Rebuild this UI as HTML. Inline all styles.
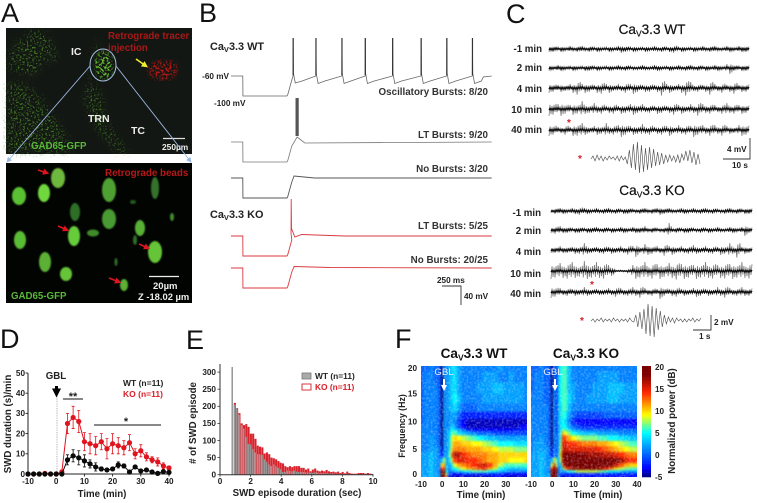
<!DOCTYPE html>
<html lang="en">
<head>
<meta charset="utf-8">
<title>CaV3.3 figure</title>
<style>
html,body{margin:0;padding:0;background:#fff;}
svg{display:block;filter:blur(0.3px);}
text{font-family:"Liberation Sans",sans-serif;font-weight:bold;fill:#222;}
.panel{font-size:27px;font-weight:normal;fill:#111;}
.b{font-size:9.8px;fill:#333;}
.ttl{font-size:10.9px;}
.c{font-size:9.7px;fill:#222;}
.big{font-size:13.6px;font-weight:normal;fill:#111;}
.tick{font-size:8.2px;}
.ax{font-size:9.7px;}
</style>
</head>
<body>
<svg id="fig" xmlns="http://www.w3.org/2000/svg" width="757" height="503" viewBox="0 0 757 503">
<defs>
<filter id="speckG" x="-5%" y="-5%" width="110%" height="110%" color-interpolation-filters="sRGB">
<feTurbulence type="fractalNoise" baseFrequency="0.55" numOctaves="2" seed="4" result="n"/>
<feColorMatrix in="n" type="matrix" values="0 0 0 0 0.27  0 0 0 0 0.5  0 0 0 0 0.14  5 0 0 0 -2.6" result="g"/>
<feGaussianBlur in="SourceAlpha" stdDeviation="4" result="m"/>
<feComposite in="g" in2="m" operator="in"/>
</filter>
<filter id="speckB" x="-5%" y="-5%" width="110%" height="110%" color-interpolation-filters="sRGB">
<feTurbulence type="fractalNoise" baseFrequency="0.42" numOctaves="2" seed="7" result="n"/>
<feColorMatrix in="n" type="matrix" values="0 0 0 0 0.42  0 0 0 0 0.78  0 0 0 0 0.2  6 0 0 0 -2.9" result="g"/>
<feGaussianBlur in="SourceAlpha" stdDeviation="1.5" result="m"/>
<feComposite in="g" in2="m" operator="in"/>
</filter>
<filter id="speckR" x="-5%" y="-5%" width="110%" height="110%" color-interpolation-filters="sRGB">
<feTurbulence type="fractalNoise" baseFrequency="0.5" numOctaves="2" seed="9" result="n"/>
<feColorMatrix in="n" type="matrix" values="0 0 0 0 0.72  0 0 0 0 0.09  0 0 0 0 0.09  6 0 0 0 -2.8" result="g"/>
<feGaussianBlur in="SourceAlpha" stdDeviation="2" result="m"/>
<feComposite in="g" in2="m" operator="in"/>
</filter>
<filter id="cellBlur"><feGaussianBlur stdDeviation="0.9"/></filter>
<filter id="heatBlur" x="-5%" y="-5%" width="110%" height="110%" color-interpolation-filters="sRGB"><feGaussianBlur stdDeviation="1"/></filter>
<filter id="mottle" x="0" y="0" width="100%" height="100%" color-interpolation-filters="sRGB">
<feTurbulence type="fractalNoise" baseFrequency="0.45" numOctaves="2" seed="3"/>
<feColorMatrix type="matrix" values="0 0 0 0 1  0 0 0 0 1  0 0 0 0 1  0.7 0 0 0 -0.3"/>
</filter>
<clipPath id="clipWT"><rect x="421" y="366" width="106" height="111"/></clipPath>
<clipPath id="clipKO"><rect x="531" y="366" width="106" height="111"/></clipPath>
<marker id="redHead" markerWidth="4" markerHeight="4" refX="2.5" refY="2" orient="auto"><path d="M0,0 L4,2 L0,4 Z" fill="#e0141e"/></marker>
<marker id="yelHead" markerWidth="4" markerHeight="4" refX="2.5" refY="2" orient="auto"><path d="M0,0 L4,2 L0,4 Z" fill="#f2ee30"/></marker>
<marker id="bluHead" markerWidth="6" markerHeight="6" refX="5" refY="3" orient="auto"><path d="M0,0 L6,3 L0,6 Z" fill="#9db9e2"/></marker>
<marker id="blkHead" markerWidth="3" markerHeight="3" refX="1.5" refY="1.5" orient="auto"><path d="M0,0 L3,1.5 L0,3 Z" fill="#000"/></marker>
<marker id="whtHead" markerWidth="3" markerHeight="3" refX="1.5" refY="1.5" orient="auto"><path d="M0,0 L3,1.5 L0,3 Z" fill="#fff"/></marker>
</defs>
<rect width="757" height="503" fill="#fff"/>

<text class="panel" x="1" y="22">A</text>
<text class="panel" x="199" y="22">B</text>
<text class="panel" x="506" y="23">C</text>
<text class="panel" x="0" y="348">D</text>
<text class="panel" x="186" y="349">E</text>
<text class="panel" x="395" y="348">F</text>

<!-- Panel A -->
<g>
<rect x="6" y="28" width="186" height="126" fill="#131713"/>
<g filter="url(#speckG)" fill="#000">
<polygon points="8,60 16,44 32,31 48,34 52,50 40,66 34,76 8,68"/>
<polygon points="50,44 56,48 56,64 50,62"/>
<polygon points="7,82 24,84 42,100 60,126 72,152 7,153"/>
<polygon points="97,40 100,44 92,86 100,92 106,122 122,146 130,153 118,153 96,128 84,98 90,82 94,62"/>
</g>
<g filter="url(#speckB)" fill="#000">
<ellipse cx="104" cy="65" rx="9" ry="14"/>
</g>
<ellipse cx="163" cy="70" rx="15" ry="10" fill="#000" filter="url(#speckR)"/>
<ellipse cx="103" cy="65" rx="13" ry="16" fill="none" stroke="#a9c3e6" stroke-width="1"/>
<line x1="136" y1="59" x2="146" y2="66" stroke="#f2ee30" stroke-width="1.6" marker-end="url(#yelHead)"/>
<text x="71" y="55" style="font-size:10.5px;fill:#eee">IC</text>
<text x="108" y="39" style="font-size:9.7px;fill:#a81818">Retrograde tracer</text>
<text x="108" y="51" style="font-size:9.7px;fill:#a81818">injection</text>
<text x="88" y="122" style="font-size:10.5px;fill:#eee">TRN</text>
<text x="131" y="134" style="font-size:10.5px;fill:#eee">TC</text>
<text x="31" y="149" style="font-size:9.7px;fill:#58b838">GAD65-GFP</text>
<line x1="163" y1="138.5" x2="185" y2="138.5" stroke="#ddd" stroke-width="1.2"/>
<text x="162" y="150" style="font-size:8.4px;fill:#eee">250µm</text>
</g>
<line x1="90" y1="66" x2="7" y2="162" stroke="#9db9e2" stroke-width="0.9" marker-end="url(#bluHead)"/>
<line x1="116" y1="66" x2="191" y2="162" stroke="#9db9e2" stroke-width="0.9" marker-end="url(#bluHead)"/>
<g>
<rect x="6" y="163" width="186" height="140" fill="#020402"/>
<g filter="url(#cellBlur)">
<ellipse cx="58" cy="178" rx="7" ry="10" fill="#6eb83c"/>
<ellipse cx="19" cy="196" rx="7" ry="9" fill="#58c032"/>
<ellipse cx="44" cy="193" rx="6" ry="9" fill="#70d83c"/>
<ellipse cx="109" cy="190" rx="7" ry="12" fill="#4fa032"/>
<ellipse cx="155" cy="188" rx="4" ry="11" fill="#34722a"/>
<ellipse cx="75" cy="212" rx="5" ry="9" fill="#2e6e26"/>
<ellipse cx="109" cy="219" rx="7" ry="10" fill="#4a9a30"/>
<ellipse cx="74" cy="236" rx="6" ry="10" fill="#66cc3a"/>
<ellipse cx="93" cy="233" rx="6" ry="3.5" fill="#3f8c2c"/>
<ellipse cx="140" cy="228" rx="5" ry="8" fill="#58b035"/>
<ellipse cx="135" cy="240" rx="2" ry="5" fill="#2e6e26"/>
<ellipse cx="20" cy="240" rx="6" ry="9" fill="#5abc34"/>
<ellipse cx="155" cy="252" rx="7" ry="11" fill="#66c438"/>
<ellipse cx="45" cy="262" rx="6" ry="10" fill="#5cb036"/>
<ellipse cx="66" cy="274" rx="6" ry="7" fill="#66c438"/>
<ellipse cx="124" cy="285" rx="4" ry="6" fill="#5cb036"/>
<ellipse cx="172" cy="217" rx="2" ry="4" fill="#3f8c2c"/>
<ellipse cx="116" cy="262" rx="1.5" ry="4" fill="#2e6e26"/>
<ellipse cx="133" cy="202" rx="3" ry="2" fill="#245a20"/>
</g>
<line x1="38" y1="170" x2="47" y2="173" stroke="#e0141e" stroke-width="1.6" marker-end="url(#redHead)"/>
<line x1="58" y1="226" x2="67" y2="230" stroke="#e0141e" stroke-width="1.6" marker-end="url(#redHead)"/>
<line x1="139" y1="244" x2="148" y2="248" stroke="#e0141e" stroke-width="1.6" marker-end="url(#redHead)"/>
<line x1="109" y1="278" x2="119" y2="282" stroke="#e0141e" stroke-width="1.6" marker-end="url(#redHead)"/>
<text x="105" y="176" style="font-size:9.8px;fill:#b81818">Retrograde beads</text>
<text x="11" y="299" style="font-size:9.7px;fill:#58b838">GAD65-GFP</text>
<line x1="149" y1="276.5" x2="179" y2="276.5" stroke="#eee" stroke-width="1.2"/>
<text x="153" y="289" style="font-size:9.5px;fill:#eee">20µm</text>
<text x="138" y="300" style="font-size:9.4px;fill:#eee">Z -18.02 µm</text>
</g>

<!-- Panel B static labels -->
<g>
<text class="ttl" x="210" y="50">Ca<tspan font-size="7.5" dy="2">V</tspan><tspan dy="-2">3.3 WT</tspan></text>
<text class="tick" x="229" y="79" text-anchor="end">-60 mV</text>
<text class="tick" x="214" y="106">-100 mV</text>
<text class="b" x="488" y="95" text-anchor="end">Oscillatory Bursts: 8/20</text>
<text class="b" x="488" y="138" text-anchor="end">LT Bursts: 9/20</text>
<text class="b" x="488" y="172" text-anchor="end">No Bursts: 3/20</text>
<text class="ttl" x="210" y="218">Ca<tspan font-size="7.5" dy="2">V</tspan><tspan dy="-2">3.3 KO</tspan></text>
<text class="b" x="488" y="229" text-anchor="end">LT Bursts: 5/25</text>
<text class="b" x="488" y="263" text-anchor="end">No Bursts: 20/25</text>
<text class="tick" x="437" y="283">250 ms</text>
<text class="tick" x="464" y="299">40 mV</text>
<path d="M442,286 H461 V305" fill="none" stroke="#333" stroke-width="0.9"/>
</g>
<g id="bTraces"></g>

<!-- Panel C static labels -->
<g>
<text class="big" x="652" y="34" text-anchor="middle" style="stroke:#111;stroke-width:.2">Ca<tspan font-size="8.5" dy="2.5">V</tspan><tspan dy="-2.5">3.3 WT</tspan></text>
<text class="c" x="542" y="52" text-anchor="end">-1 min</text>
<text class="c" x="542" y="71" text-anchor="end">2 min</text>
<text class="c" x="542" y="92" text-anchor="end">4 min</text>
<text class="c" x="542" y="113" text-anchor="end">10 min</text>
<text class="c" x="542" y="133" text-anchor="end">40 min</text>
<text x="569" y="126" text-anchor="middle" style="font-size:10px;fill:#d81c2a">*</text>
<text x="580" y="162" text-anchor="middle" style="font-size:10px;fill:#d81c2a">*</text>
<path d="M723,159 H750 V138" fill="none" stroke="#333" stroke-width="0.9"/>
<text class="tick" x="727" y="152">4 mV</text>
<text class="tick" x="732" y="168">10 s</text>
<text class="big" x="652" y="195" text-anchor="middle" style="stroke:#111;stroke-width:.2">Ca<tspan font-size="8.5" dy="2.5">V</tspan><tspan dy="-2.5">3.3 KO</tspan></text>
<text class="c" x="541" y="216" text-anchor="end">-1 min</text>
<text class="c" x="541" y="234" text-anchor="end">2 min</text>
<text class="c" x="541" y="255" text-anchor="end">4 min</text>
<text class="c" x="541" y="277" text-anchor="end">10 min</text>
<text class="c" x="541" y="297" text-anchor="end">40 min</text>
<text x="592" y="288" text-anchor="middle" style="font-size:10px;fill:#d81c2a">*</text>
<text x="582" y="324" text-anchor="middle" style="font-size:10px;fill:#d81c2a">*</text>
<path d="M693,330 H711 V315" fill="none" stroke="#333" stroke-width="0.9"/>
<text class="tick" x="714" y="325">2 mV</text>
<text class="tick" x="699" y="339">1 s</text>
</g>
<g id="cTraces"></g>

<!-- Panel D static -->
<g id="panelD">
<text class="ax" transform="translate(11,424) rotate(-90)" text-anchor="middle">SWD duration (s)/min</text>
<text class="ax" x="102" y="497" text-anchor="middle">Time (min)</text>
<text class="ax" x="56" y="379" text-anchor="middle">GBL</text>
<line x1="57" y1="396" x2="57" y2="474" stroke="#999" stroke-width="0.8" stroke-dasharray="1.2 1.2"/>
<line x1="56.5" y1="386" x2="56.5" y2="393" stroke="#000" stroke-width="3" marker-end="url(#blkHead)"/>
<text x="73" y="400" text-anchor="middle" style="font-size:11px">**</text>
<line x1="63" y1="399" x2="83" y2="399" stroke="#111" stroke-width="0.9"/>
<text x="126" y="425" text-anchor="middle" style="font-size:11px">*</text>
<line x1="94" y1="425" x2="161" y2="425" stroke="#111" stroke-width="0.9"/>
<text class="tick" x="123" y="386" style="font-size:8.5px">WT (n=11)</text>
<text class="tick" x="123" y="397" style="fill:#d8202a;font-size:8.5px">KO (n=11)</text>
</g>

<!-- Panel E static -->
<g id="panelE">
<text class="ax" transform="translate(196,423) rotate(-90)" text-anchor="middle"># of SWD episode</text>
<text class="ax" x="297" y="496" text-anchor="middle">SWD episode duration (sec)</text>
<rect x="302" y="373" width="9" height="6" fill="#aaa" stroke="#777" stroke-width="0.8"/>
<text class="tick" x="315" y="379" style="font-size:8.4px">WT (n=11)</text>
<rect x="302" y="384" width="9" height="6" fill="#fff" stroke="#d8202a" stroke-width="0.9"/>
<text class="tick" x="315" y="390" style="fill:#d8202a;font-size:8.4px">KO (n=11)</text>
</g>

<!-- Panel F static -->
<g id="panelF">
<text class="big" x="474" y="358" text-anchor="middle" style="font-weight:bold">Ca<tspan font-size="8.5" dy="2.5">V</tspan><tspan dy="-2.5">3.3 WT</tspan></text>
<text class="big" x="586" y="358" text-anchor="middle" style="font-weight:bold">Ca<tspan font-size="8.5" dy="2.5">V</tspan><tspan dy="-2.5">3.3 KO</tspan></text>
<text class="ax" x="481" y="498" text-anchor="middle">Time (min)</text>
<text class="ax" x="598" y="498" text-anchor="middle">Time (min)</text>
<text class="ax" transform="translate(405,426) rotate(-90)" text-anchor="middle" style="font-size:8.8px">Frequency (Hz)</text>
<text class="ax" transform="translate(675,421) rotate(-90)" text-anchor="middle">Normalized power (dB)</text>
</g>
</svg>

<script>
// ---------- Panel B data ----------
var burstSpikesMs = [816,1116,1458,1765,2125,2500,2838,3175];
var burstTroughMv = [-74,-75,-75,-75,-75,-75,-75,-75];
var burstPeakMv = 16;
var stepTimesMs = [0,155,157,735,745,760,800];
var ltSpikeMs = 870;
var koSpikeMs = 790;
var traceEndMs = 3430;

function xB(t){return 231+t*0.076;}
function yB(base,v){return base-(v+60)*0.5;}
function mk(tag,attrs,parent){
  var el=document.createElementNS('http://www.w3.org/2000/svg',tag);
  for(var k in attrs){el.setAttribute(k,attrs[k]);}
  if(parent){parent.appendChild(el);}
  return el;
}
var bG=document.getElementById('bTraces');
function stepPts(base){
  var v=[-60,-60,-100,-100,-98,-90,-68];
  return stepTimesMs.map(function(t,i){return xB(t)+','+yB(base,v[i]);});
}
// Oscillatory trace
var p1=stepPts(76).slice();
burstSpikesMs.forEach(function(t,i){
  p1.push(xB(t)+','+yB(76,-60));
  p1.push(xB(t+2)+','+yB(76,burstPeakMv));
  p1.push(xB(t+6)+','+yB(76,-55));
  p1.push(xB(t+30)+','+yB(76,burstTroughMv[i]));
  p1.push(xB(t+120)+','+yB(76,-70));
});
p1.push(xB(traceEndMs-110)+','+yB(76,-62));
p1.push(xB(traceEndMs)+','+yB(76,-60));
var t1=mk('polyline',{points:p1.join(' '),fill:'none',stroke:'#666','stroke-width':0.8},bG);


burstSpikesMs.forEach(function(t){
  var s=mk('line',{x1:xB(t+2),x2:xB(t+2),y1:yB(76,burstPeakMv),y2:yB(76,-58),stroke:'#333','stroke-width':1.2},bG);
  
  
});
// WT LT burst
var p2=stepPts(142);
p2.push(xB(ltSpikeMs)+','+yB(142,-50));p2.push(xB(ltSpikeMs+100)+','+yB(142,-62));p2.push(xB(traceEndMs)+','+yB(142,-60));
var t2=mk('polyline',{points:p2.join(' '),fill:'none',stroke:'#777','stroke-width':0.8},bG);


var s2=mk('rect',{x:xB(ltSpikeMs)-1.6,y:98,width:3.2,height:38,fill:'#555'},bG);


// WT no burst
var p3=stepPts(178);
p3.push(xB(830)+','+yB(178,-56));p3.push(xB(1100)+','+yB(178,-60));p3.push(xB(traceEndMs)+','+yB(178,-60));
var t3=mk('polyline',{points:p3.join(' '),fill:'none',stroke:'#555','stroke-width':0.9},bG);


// KO LT burst
var p4=stepPts(236);
p4.push(xB(koSpikeMs)+','+yB(236,-55));p4.push(xB(koSpikeMs+2)+','+yB(236,14));p4.push(xB(koSpikeMs+6)+','+yB(236,-45));p4.push(xB(koSpikeMs+50)+','+yB(236,-62));p4.push(xB(koSpikeMs+140)+','+yB(236,-57));p4.push(xB(1500)+','+yB(236,-60));p4.push(xB(traceEndMs)+','+yB(236,-60));
var t4=mk('polyline',{points:p4.join(' '),fill:'none',stroke:'#d83a40','stroke-width':0.9},bG);


// KO no burst
var p5=stepPts(268);
p5.push(xB(830)+','+yB(268,-57));p5.push(xB(1300)+','+yB(268,-59));p5.push(xB(traceEndMs)+','+yB(268,-60));
var t5=mk('polyline',{points:p5.join(' '),fill:'none',stroke:'#d83a40','stroke-width':0.9},bG);



// ---------- Panel C data ----------
var wtM1=[3,3,2,3,2,3,2,3,3,2,3,2,3,2,2,3,2,3,4,3,2,3,2,2,3,2,3,2,3,2,3,4,2,3,2,2,3,2,3,2,3,3,2,2,3,3,2,3,3,3];
var wt2=[3,2,3,3,2,2,3,2,2,3,3,2,3,2,2,3,2,3,2,3,2,2,2,3,2,2,3,3,2,2,3,2,3,2,3,3,2,3,2,3,2,3,3,2,4,6,3,2,3,3];
var wt4=[5,4,3,4,3,4,5,7,4,5,4,3,5,6,4,5,3,4,3,5,4,6,4,3,4,4,3,4,8,4,5,3,4,5,8,6,3,4,3,4,7,4,3,5,3,4,6,3,4,4];
var wt10=[7,6,5,7,5,4,6,5,8,5,4,6,4,5,3,4,5,3,5,4,5,6,4,5,3,4,3,5,4,3,4,6,4,5,3,5,4,7,5,4,5,4,3,5,6,4,5,4,5,4];
var wt40=[6,5,3,3,5,3,6,6,7,5,3,4,5,4,7,4,5,5,7,5,4,5,4,6,4,5,3,4,5,4,6,3,5,4,5,4,7,5,5,4,6,5,4,6,4,4,3,5,6,5];
var koM1=[2,3,3,3,2,3,3,4,3,3,2,3,2,3,3,2,3,2,3,3,2,2,3,3,2,3,3,4,3,3,2,2,3,3,2,3,2,3,3,2,3,2,2,3,3,2,3,2,3,3];
var ko2=[3,4,4,3,3,2,3,3,2,3,3,3,2,3,2,3,2,3,3,2,3,3,3,4,2,3,2,2,3,7,2,3,2,3,3,2,2,3,2,3,2,3,2,2,3,3,2,3,6,3];
var ko4=[3,3,4,3,3,3,4,4,7,4,3,3,3,4,3,4,3,4,3,5,4,7,3,6,5,4,4,3,6,4,5,3,4,3,4,5,4,3,4,3,4,3,5,4,7,4,8,3,4,3];
var ko10=[8,7,8,7,8,9,7,6,10,8,7,9,7,8,6,5,1,1,1,2,6,8,7,9,6,8,7,8,6,8,7,9,7,8,7,6,8,7,9,7,8,6,7,8,7,8,7,9,7,8];
var ko40=[6,5,4,3,4,3,4,3,5,4,3,3,3,3,4,3,5,4,3,4,5,4,6,4,3,4,3,7,4,3,4,5,3,4,3,4,5,4,3,4,3,5,4,6,4,3,4,5,4,4];
var wtBurst=[1,-2,3,-3,2,-2,3,-1,2,-2,1,-1,2,-2,3,-2,2,-1,6,-8,10,-14,12,-16,15,-13,14,-10,12,-11,10,-9,8,-6,7,-5,6,-3,4,-3,3,-2,4,-3,5,-4,2,-7,3,-8,5,-6,7,-4,6];
var koBurst=[1,-1,2,-1,1,-2,2,-1,1,-1,2,-2,1,-1,2,-1,1,-1,2,-2,1,2,-5,7,-8,9,-11,14,-16,16,-14,17,-12,10,-9,7,-5,4,-3,2,-2,3,-2,1,-1,2,-1,2,-1,1,-2,2,-1,1,-2];
var wiggle=[1,-0.6,0.75,-0.45,0.95,-0.7,0.5,-0.85,0.65,-1,0.4,-0.55];
var cG=document.getElementById('cTraces');
function drawEnv(amps,x0,x1,cy,name){
  var step=(x1-x0)/amps.length,outer=[],inner=[],n=0;
  amps.forEach(function(a,i){
    for(var k=0;k<4;k++){
      var w=wiggle[n%wiggle.length];
      var px=x0+i*step+k*step/4;
      outer.push(px+','+(cy+w*a));
      inner.push(px+','+(cy+w*Math.min(a*0.4,1.2)));
      n++;
    }
  });
  var band=mk('polyline',{points:outer.join(' '),fill:'none',stroke:'#808080','stroke-width':0.8},cG);
  
  
  var core=mk('polyline',{points:inner.join(' '),fill:'none',stroke:'#0c0c0c','stroke-width':1.3},cG);
  
  
}
drawEnv(wtM1,549,750,49,'eeg-wt-minus1');
drawEnv(wt2,549,750,68,'eeg-wt-2min');
drawEnv(wt4,549,750,88,'eeg-wt-4min');
drawEnv(wt10,549,750,109,'eeg-wt-10min');
drawEnv(wt40,549,750,130,'eeg-wt-40min');
drawEnv(koM1,551,753,211,'eeg-ko-minus1');
drawEnv(ko2,551,753,230,'eeg-ko-2min');
drawEnv(ko4,551,753,250,'eeg-ko-4min');
drawEnv(ko10,551,753,271,'eeg-ko-10min');
drawEnv(ko40,551,753,292,'eeg-ko-40min');
function drawBurst(vals,x0,x1,cy,name){
  var step=(x1-x0)/(vals.length-1);
  var pl=mk('polyline',{points:vals.map(function(v,i){return (x0+i*step)+','+(cy+v);}).join(' '),fill:'none',stroke:'#555','stroke-width':0.65},cG);
  
  
}
drawBurst(wtBurst,591,700,158,'expanded-burst-wt');
drawBurst(koBurst,591,701,320,'expanded-burst-ko');

// ---------- Panel D data ----------
var timeMin=[-10,-8,-6,-4,-2,0,2,4,6,8,10,12,14,16,18,20,22,24,26,28,30,32,34,36,38,40];
var koMean=[0,0,0,0.3,0,0,1,25,28,26,16,15,14,16,12.5,15,14,13,15.5,10,11.5,8.5,7,6,4,3];
var koErr=[0,0,0,0,0,0,1,5,5.5,5.5,4.5,5,4.5,4,5,5,4,3.5,4,2.5,3,2,1.5,2,1.5,1];
var wtMean=[0,0,0,0,0,0,0,7,9,8,6.5,5,3.5,2.5,2,2.5,4.5,4,1,3.5,1.5,2,1,0.3,1.2,0.8];
var wtErr=[0,0,0,0,0,0,0,2.5,3,3.5,3,2,2,1,0.8,0.8,1.5,1,0.8,0.8,0.8,0.5,0.5,0.4,0.8,0.6];
var dXTicks=[-10,0,10,20,30,40];
var dYTicks=[0,10,20,30,40,50];
function xD(t){return 28+(t+10)*2.82;}
function yD(v){return 474-v*2.02;}
var dG=document.getElementById('panelD');
var dAxis=mk('path',{d:'M'+xD(-10)+','+yD(50)+' V'+yD(0)+' H'+xD(40),fill:'none',stroke:'#222','stroke-width':1},dG);


dYTicks.forEach(function(v){
  var t=mk('line',{x1:xD(-10)-2.5,x2:xD(-10),y1:yD(v),y2:yD(v),stroke:'#222','stroke-width':0.9},dG);
  
  
  var l=mk('text',{x:xD(-10)-3,y:yD(v)+2.8,'text-anchor':'end','class':'tick'},dG);
  l.textContent=v;
  
  
});
dXTicks.forEach(function(v){
  var t=mk('line',{x1:xD(v),x2:xD(v),y1:yD(0),y2:yD(0)+2.5,stroke:'#222','stroke-width':0.9},dG);
  
  
  var l=mk('text',{x:xD(v),y:484,'text-anchor':'middle','class':'tick'},dG);
  l.textContent=v;
  
  
});
function drawSeries(mean,err,color,name){
  var line=mk('polyline',{points:mean.map(function(v,i){return xD(timeMin[i])+','+yD(v);}).join(' '),fill:'none',stroke:color,'stroke-width':1},dG);
  
  
  mean.forEach(function(v,i){
    if(err[i]>0){
      var e=mk('path',{d:'M'+(xD(timeMin[i])-1.5)+','+yD(v+err[i])+' h3 M'+xD(timeMin[i])+','+yD(v+err[i])+' V'+yD(v-err[i])+' M'+(xD(timeMin[i])-1.5)+','+yD(v-err[i])+' h3',fill:'none',stroke:color,'stroke-width':0.8},dG);
      
      
    }
  });
  mean.forEach(function(v,i){
    var c=mk('circle',{cx:xD(timeMin[i]),cy:yD(v),r:2.6,fill:color},dG);
    
    
  });
}
drawSeries(koMean,koErr,'#e0141e','ko-series');
drawSeries(wtMean,wtErr,'#0a0a0a','wt-series');

// ---------- Panel E data ----------
var binStart=[0.75,0.9,1.05,1.2,1.35,1.5,1.65,1.8,1.95,2.1,2.25,2.4,2.55,2.7,2.85,3,3.15,3.3,3.45,3.6,3.75,3.9,4.05,4.2,4.35,4.5,4.65,4.8,4.95,5.1,5.25,5.4,5.55,5.7,5.85,6,6.15,6.3,6.45,6.6,6.75,6.9,7.05,7.2,7.35,7.5,7.65,7.8,7.95,8.1,8.25,8.4,8.55,8.7,8.85,9,9.15,9.3,9.45,9.6,9.75,9.9];
var koCounts=[0,210,195,180,150,145,148,140,120,120,105,85,82,80,62,65,60,50,48,45,40,35,33,25,22,25,22,25,25,25,20,20,15,18,10,15,18,12,10,12,10,14,10,8,9,7,9,5,8,4,9,5,3,3,3,5,5,5,3,5,3,2];
var wtCounts=[315,205,195,175,145,135,110,90,88,75,65,60,60,58,45,38,30,25,30,25,20,16,8,8,12,12,10,12,9,8,8,8,7,6,6,5,7,6,4,5,4,4,3,3,3,2,3,2,2,2,2,2,1,2,2,1,1,1,1,1,1,1];
var eXTicks=[0,2,4,6,8,10];
var eYTicks=[0,50,100,150,200,250,300];
function xE(s){return 220+s*15.3;}
function yE(v){return 474.7-v*0.342;}
var eG=document.getElementById('panelE');
koCounts.forEach(function(v,i){
  var r=mk('rect',{x:xE(binStart[i]),y:yE(v),width:2.1,height:v*0.342,fill:'#d8222c'},eG);
  
  
});
wtCounts.forEach(function(v,i){
  var r=mk('rect',{x:xE(binStart[i]),y:yE(v),width:1.5,height:v*0.342,fill:'#979797'},eG);
  
  
});
var eAxis=mk('path',{d:'M'+xE(0)+',364 V'+yE(0)+' H'+xE(10),fill:'none',stroke:'#333','stroke-width':1},eG);


eYTicks.forEach(function(v){
  var t=mk('line',{x1:xE(0)-2.5,x2:xE(0),y1:yE(v),y2:yE(v),stroke:'#333','stroke-width':0.8},eG);
  
  
  var l=mk('text',{x:xE(0)-4,y:yE(v)+2.8,'text-anchor':'end','class':'tick'},eG);
  l.textContent=v;
  
  
});
eXTicks.forEach(function(v){
  var t=mk('line',{x1:xE(v),x2:xE(v),y1:yE(0),y2:yE(0)+2,stroke:'#333','stroke-width':0.8},eG);
  
  
  var l=mk('text',{x:xE(v),y:484,'text-anchor':'middle','class':'tick'},eG);
  l.textContent=v;
  
  
});

// ---------- Panel F data ----------
var specTimes=[-10,-7.5,-5,-3,-1.5,0,1,2,3,4,5,6,8,10,12.5,15,17.5,20,22.5,25,27.5,30,32.5,35,37.5,40];
var specFreqs=[20,18,16,14,12.5,11,10,9,8.5,8,7,6,5,4,3,2,1.5,1,0.5,0];
var specWT=[
[0,0,1,0,0,-5,2,1,2,3,4,4,2,1,1,1,1,1,1,1,2,1,1,1,1,1],
[0,1,1,0,0,-5,2,1,2,3,4,4,2,1,1,1,1,2,2,2,1,1,2,1,1,1],
[0,1,1,1,0,-5,2,1,2,3,4,4,2,1,1,1,2,2,2,3,3,2,2,2,2,1],
[0,1,1,1,0,-5,2,1,2,3,4,5,3,1,1,1,1,2,2,2,2,2,2,2,2,1],
[0,1,1,1,0,-5,2,1,2,3,3,4,2,0,0,0,1,1,1,1,1,1,1,1,1,1],
[0,1,1,1,0,-5,2,1,1,2,2,2,0,-2,-2,-2,-2,-2,-2,-2,-2,-2,-2,-2,-2,-2],
[0,1,1,1,0,-5,2,1,1,2,2,1,-1,-3,-4,-4,-4,-4,-4,-4,-4,-4,-4,-4,-4,-4],
[1,1,1,1,0,-5,2,1,1,3,3,2,-1,-3,-4,-4,-4,-4,-4,-4,-4,-4,-4,-4,-3,-3],
[1,1,1,1,0,-5,2,1,2,4,5,4,2,0,-2,-3,-3,-3,-3,-3,-3,-3,-3,-2,-2,-2],
[1,1,1,1,0,-5,2,1,3,5,7,6,4,3,2,1,0,0,0,-1,-1,-1,-1,-1,-1,-1],
[1,1,2,1,0,-5,2,1,3,6,9,10,9,8,7,6,5,4,3,3,2,2,2,2,2,2],
[1,1,2,1,0,-5,2,1,3,6,10,11,11,10,10,9,9,8,7,6,5,5,5,4,4,4],
[1,1,2,2,1,-4,2,1,3,7,11,12,12,12,11,11,11,10,10,9,8,8,8,7,7,7],
[2,2,3,2,1,-3,3,1,4,8,15,17,16,14,13,12,12,12,11,11,10,10,10,10,10,10],
[2,2,3,2,1,3,8,2,3,6,11,14,15,15,14,14,13,12,11,11,10,10,9,9,9,10],
[2,2,3,2,1,10,11,3,2,3,6,9,11,12,13,14,15,16,14,11,8,6,6,6,6,6],
[2,2,3,2,1,14,14,4,1,2,4,5,7,9,11,12,13,14,11,8,5,4,3,3,3,4],
[2,2,3,2,1,18,18,5,1,1,2,3,3,4,5,6,6,6,5,4,3,2,1,1,1,1],
[2,2,3,2,2,20,20,8,0,-2,-3,-3,-3,-2,-2,-2,-2,-2,-2,-2,-2,-3,-3,-3,-3,-3],
[2,2,3,2,2,20,20,12,-1,-4,-4,-4,-4,-4,-4,-4,-4,-4,-4,-3,-3,-4,-4,-4,-4,-4]
];
var specKO=[
[0,0,1,0,0,-5,1,-2,3,5,6,6,3,1,1,1,1,1,1,1,1,1,1,1,1,1],
[0,1,1,0,0,-5,1,-2,3,5,6,6,3,1,1,1,1,1,2,2,2,2,1,1,1,1],
[0,1,1,0,0,-5,2,-2,3,5,6,6,3,2,1,1,1,2,2,2,3,3,3,2,2,2],
[1,1,1,0,0,-5,2,-2,3,5,6,6,4,2,1,1,2,2,2,2,3,3,2,2,2,2],
[1,1,1,1,0,-5,2,-2,3,4,6,6,3,1,1,1,1,1,1,1,1,1,1,1,1,1],
[1,1,1,1,0,-5,2,-2,3,4,6,5,2,0,-1,-1,-1,-1,-1,0,0,0,0,0,0,0],
[1,1,1,1,0,-5,2,-2,3,4,5,4,1,-2,-3,-3,-3,-3,-3,-3,-3,-3,-3,-3,-3,-3],
[1,1,1,1,0,-5,2,-2,2,4,5,5,2,0,-1,-2,-2,-2,-2,-2,-2,-2,-2,-2,-2,-2],
[1,1,1,1,0,-5,2,-2,2,4,7,6,4,2,1,0,0,0,0,0,0,0,0,0,0,0],
[1,1,1,1,0,-5,2,-1,2,5,11,9,7,5,4,3,3,3,2,2,2,2,1,1,1,1],
[1,1,2,1,0,-5,2,-1,2,6,14,13,11,9,8,7,7,7,6,6,5,5,4,4,3,3],
[1,2,2,1,0,-5,2,-1,2,7,15,15,14,14,13,12,12,12,11,11,10,9,8,7,6,6],
[1,2,2,2,1,-4,2,-1,2,8,16,16,15,15,15,15,15,15,14,13,12,11,10,9,8,8],
[2,2,3,2,1,-3,3,-1,3,10,18,19,20,19,18,18,17,17,17,16,16,15,14,13,12,12],
[2,2,3,2,1,3,10,6,2,8,17,20,20,20,20,20,20,20,20,20,19,18,17,15,14,14],
[2,2,3,2,1,8,16,8,1,4,13,19,20,20,20,20,20,20,20,20,19,16,13,11,10,10],
[2,2,3,2,1,14,20,16,1,2,6,12,15,17,18,19,19,18,17,15,13,10,8,7,6,6],
[2,2,3,2,1,18,20,18,1,1,2,3,5,6,8,8,8,8,7,6,5,4,3,2,2,2],
[2,2,3,2,2,20,20,20,1,-1,-2,-2,-2,-2,-2,-2,-2,-2,-2,-2,-2,-2,-2,-2,-2,-2],
[2,2,3,2,3,20,20,20,2,-2,-4,-4,-3,-3,-3,-3,-3,-3,-3,-3,-3,-3,-3,-3,-3,-3]
];
var specXTicksWT=[-10,0,10,20,30];
var specXTicksKO=[-10,0,10,20,30,40];
var specYTicks=[0,5,10,15,20];
var cbarTicks=[-5,0,5,10,15,20];
function jet(v){
  var stops=[[-5,0,0,127],[-3,0,0,255],[5,0,255,255],[7,127,255,127],[9,255,255,0],[14,255,40,0],[18,127,0,0],[20,120,0,0]];
  v=Math.max(-5,Math.min(20,v));
  for(var i=1;i<stops.length;i++){
    if(v<=stops[i][0]){
      var a=stops[i-1],b=stops[i],f=(v-a[0])/(b[0]-a[0]);
      return 'rgb('+Math.round(a[1]+(b[1]-a[1])*f)+','+Math.round(a[2]+(b[2]-a[2])*f)+','+Math.round(a[3]+(b[3]-a[3])*f)+')';
    }
  }
  return 'rgb(127,0,0)';
}
function xF(x0,t){return x0+(t+10)*2.12;}
function yF(f){return 477-f*5.55;}
var fG=document.getElementById('panelF');
function drawSpec(matrix,x0,clip,name,ticks){
  var outer=mk('g',{'clip-path':'url(#'+clip+')'},fG);
  
  
  var inner=mk('g',{filter:'url(#heatBlur)'},outer);
  matrix.forEach(function(row,r){
    var ft=r===0?yF(specFreqs[0])-6:(yF(specFreqs[r])+yF(specFreqs[r-1]))/2;
    var fb=r===matrix.length-1?yF(0)+6:(yF(specFreqs[r])+yF(specFreqs[r+1]))/2;
    row.forEach(function(v,c){
      var xl=c===0?xF(x0,specTimes[0])-6:(xF(x0,specTimes[c])+xF(x0,specTimes[c-1]))/2;
      var xr=c===row.length-1?xF(x0,specTimes[c])+6:(xF(x0,specTimes[c])+xF(x0,specTimes[c+1]))/2;
      var cell=mk('rect',{x:xl,y:ft,width:xr-xl+0.3,height:fb-ft+0.3,fill:jet(v)},inner);
      
      
    });
  });
  var noise=mk('rect',{x:x0,y:366,width:106,height:111,filter:'url(#mottle)'},outer);
  
  
  ticks.forEach(function(v){
    var l=mk('text',{x:xF(x0,v),y:487,'text-anchor':'middle','class':'tick'},fG);
    l.textContent=v;
    
    
  });
}
drawSpec(specWT,421,'clipWT','spectrogram-wt',specXTicksWT);
drawSpec(specKO,531,'clipKO','spectrogram-ko',specXTicksKO);
specYTicks.forEach(function(v){
  var l=mk('text',{x:417,y:Math.max(Math.min(yF(v),474),368)+2.8,'text-anchor':'end','class':'tick'},fG);
  l.textContent=v;
  
  
});
// colorbar
for(var cv=-5;cv<20;cv+=0.5){
  var cy=477-(cv+5.5)*111/25;
  var cr=mk('rect',{x:642,y:cy,width:9,height:2.5,fill:jet(cv+0.25)},fG);
  
  
}
cbarTicks.forEach(function(v){
  var l=mk('text',{x:655,y:477-(v+5)*110/25+2.8,'class':'tick'},fG);
  l.textContent=v;
  
  
});
[[444,'gbl-label-wt'],[553,'gbl-label-ko']].forEach(function(d){
  var t=mk('text',{x:d[0],y:375,'text-anchor':'middle',style:'font-size:9.6px;fill:#e8f0ff;font-weight:normal'},fG);
  t.textContent='GBL';
  
  
  var a=mk('line',{x1:d[0]+(d[0]>500?2:0),x2:d[0]+(d[0]>500?2:0),y1:379,y2:388,stroke:'#fff','stroke-width':2,'marker-end':'url(#whtHead)'},fG);
  
  
});
</script>
</body>
</html>
